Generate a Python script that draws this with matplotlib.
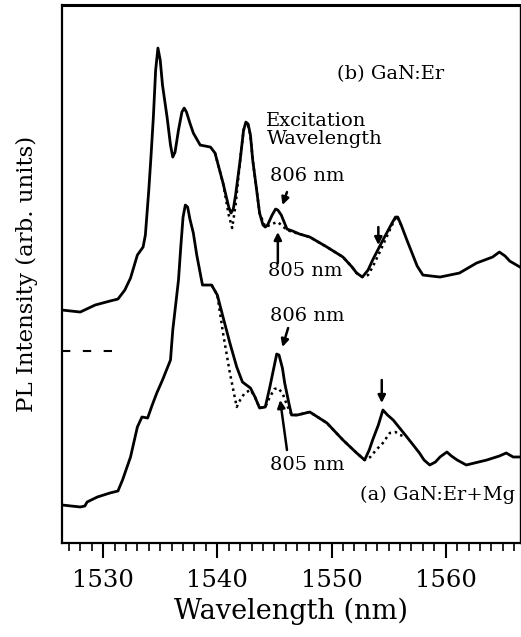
import matplotlib
matplotlib.use("Agg")
import matplotlib.pyplot as plt
from matplotlib.ticker import MultipleLocator

plt.rcParams['font.family'] = ['DejaVu Serif']

# (b) GaN:Er, 806 nm excitation (solid)
wl_b = [1526.4, 1528.0, 1529.3, 1530.6, 1531.3, 1531.9, 1532.4, 1533.0, 1533.5, 1533.7,
        1534.0, 1534.2, 1534.4, 1534.6, 1534.8, 1535.0, 1535.2, 1535.6, 1535.9, 1536.1,
        1536.3, 1536.6, 1536.9, 1537.1, 1537.3, 1537.6, 1537.9, 1538.5, 1539.4, 1539.8,
        1540.5, 1541.0, 1541.2, 1541.4, 1541.6, 1542.0, 1542.3, 1542.5, 1542.7, 1542.9,
        1543.1, 1543.5, 1543.7, 1544.0, 1544.2, 1544.4, 1544.8, 1545.1, 1545.3, 1545.6,
        1546.1, 1546.6, 1547.2, 1548.1, 1549.6, 1551.0, 1551.8, 1552.2, 1552.7, 1553.2,
        1553.6, 1554.5, 1555.3, 1555.6, 1555.8, 1556.1, 1556.6, 1557.5, 1558.0, 1559.5,
        1561.2, 1562.7, 1564.1, 1564.7, 1565.2, 1565.6, 1566.5]
pl_b = [23.5, 23.3, 24.0, 24.4, 24.6, 25.5, 26.7, 29.0, 29.8, 31.0,
        35.5, 39.0, 42.8, 47.5, 49.7, 48.5, 46.0, 42.8, 40.0, 38.8,
        39.3, 41.5, 43.3, 43.7, 43.3, 42.2, 41.2, 40.0, 39.8, 39.2,
        36.2, 33.8, 33.2, 33.6, 35.0, 38.5, 41.5, 42.3, 42.1, 41.0,
        38.5, 35.0, 33.2, 32.0, 31.8, 32.0, 33.0, 33.6, 33.5, 33.0,
        31.6, 31.4, 31.1, 30.8, 29.8, 28.8, 27.8, 27.2, 26.8, 27.5,
        28.5, 30.5, 32.2, 32.8, 32.8, 32.0, 30.5, 27.9, 27.0, 26.8,
        27.2, 28.2, 28.8, 29.3, 28.9, 28.4, 27.8]

# (b) GaN:Er, 805 nm excitation (dotted, where it differs)
wl_b805 = [1539.8, 1540.5, 1541.0, 1541.3, 1541.6, 1542.0, 1542.3, 1542.6, 1542.9, 1543.1,
           1543.5, 1543.7, 1544.2, 1544.6, 1545.0, 1545.3, 1545.7, 1546.1, 1546.6, 1548.1,
           1549.6, 1551.0, 1551.8, 1552.2, 1552.7, 1553.2, 1553.6, 1554.1, 1554.5, 1555.3,
           1555.7, 1556.1]
pl_b805 = [39.2, 36.2, 33.0, 31.7, 34.0, 38.5, 41.5, 42.3, 41.0, 38.5,
           35.0, 33.2, 31.8, 32.0, 32.2, 32.3, 31.9, 31.5, 31.3, 30.8,
           29.8, 28.8, 27.8, 27.2, 26.8, 27.0, 27.8, 29.0, 30.0, 32.0,
           32.9, 32.0]

# (a) GaN:Er+Mg, 806 nm excitation (solid)
wl_a = [1526.4, 1528.0, 1528.4, 1528.6, 1529.5, 1530.6, 1531.3, 1531.7, 1532.4, 1533.0,
        1533.4, 1533.9, 1534.3, 1534.7, 1535.2, 1535.9, 1536.1, 1536.3, 1536.6, 1536.8,
        1537.0, 1537.2, 1537.4, 1537.6, 1537.9, 1538.2, 1538.5, 1538.7, 1539.2, 1539.5,
        1540.0, 1540.5, 1541.1, 1541.7, 1542.2, 1542.9, 1543.3, 1543.7, 1544.2, 1544.6,
        1545.0, 1545.2, 1545.4, 1545.7, 1545.9, 1546.3, 1546.5, 1547.0, 1548.1, 1549.6,
        1551.0, 1552.2, 1552.9, 1553.3, 1553.6, 1554.1, 1554.5, 1554.9, 1555.4, 1556.6,
        1557.7, 1558.1, 1558.6, 1559.1, 1559.5, 1560.1, 1560.5, 1561.0, 1561.8, 1563.6,
        1564.7, 1565.3, 1565.9, 1566.5]
pl_a = [4.0, 3.8, 3.9, 4.3, 4.8, 5.2, 5.4, 6.5, 8.8, 11.8,
        12.8, 12.7, 14.0, 15.2, 16.5, 18.5, 21.5, 23.5, 26.5, 29.8,
        32.8, 34.0, 33.8, 32.6, 31.2, 29.0, 27.2, 26.0, 26.0, 26.0,
        25.0, 22.8, 20.2, 17.8, 16.3, 15.7, 14.8, 13.7, 13.8, 15.8,
        18.0, 19.1, 19.0, 17.7, 16.2, 14.0, 13.0, 13.0, 13.3, 12.2,
        10.5, 9.2, 8.5, 9.5, 10.5, 12.0, 13.5, 13.0, 12.5, 10.8,
        9.2, 8.5, 8.0, 8.3, 8.8, 9.3, 8.9, 8.5, 8.0, 8.5,
        8.9, 9.2, 8.8, 8.8]

# (a) GaN:Er+Mg, 805 nm excitation (dotted, where it differs)
wl_a805 = [1539.5, 1540.0, 1540.5, 1541.1, 1541.7, 1542.0, 1542.4, 1542.9, 1543.3, 1543.7,
           1544.2, 1544.6, 1545.0, 1545.3, 1545.7, 1546.1, 1546.5, 1547.0, 1548.1, 1549.6,
           1551.0, 1552.2, 1552.9, 1553.4, 1553.9, 1554.5, 1555.1, 1555.6, 1556.0, 1556.6]
pl_a805 = [26.0, 25.0, 21.2, 17.2, 13.8, 14.5, 15.2, 15.5, 14.8, 13.7,
           13.8, 14.8, 15.6, 15.7, 15.2, 14.0, 13.0, 13.0, 13.3, 12.2,
           10.5, 9.2, 8.5, 8.8, 9.5, 10.2, 11.2, 11.3, 11.0, 10.8]

x_ticks = [1530, 1540, 1550, 1560]
x_ticklabels = ['1530', '1540', '1550', '1560']

fig = plt.figure(figsize=(5.21, 6.37), dpi=100)
ax = fig.add_axes([0.119, 0.1476, 0.879, 0.8444])

ax.plot(wl_b805, pl_b805, color='k', lw=1.8, linestyle=(0, (1, 1.5)))
ax.plot(wl_a805, pl_a805, color='k', lw=1.8, linestyle=(0, (1, 1.5)))
ax.plot(wl_b, pl_b, color='k', lw=2.0)
ax.plot(wl_a, pl_a, color='k', lw=2.0)

# zero-level marker for the upper curve
ax.plot([1526.4, 1531.2], [19.4, 19.4], color='k', lw=1.5, linestyle=(0, (4, 6)))

ax.set_xlim(1526.4, 1566.5)
ax.set_ylim(0.2, 54.0)
ax.set_xticks(x_ticks)
ax.set_xticklabels(x_ticklabels)
ax.xaxis.set_minor_locator(MultipleLocator(1))
ax.set_yticks([])
ax.tick_params(axis='x', which='major', direction='out', length=11, width=1.5,
               labelsize=17.5, pad=8)
ax.tick_params(axis='x', which='minor', direction='out', length=5.5, width=1.2)

ax.spines['top'].set_linewidth(2.2)
ax.spines['left'].set_linewidth(1.6)
ax.spines['bottom'].set_linewidth(1.6)
ax.spines['right'].set_linewidth(1.0)

ax.set_xlabel('Wavelength (nm)', fontsize=19.5, labelpad=4)
ax.set_ylabel('PL Intensity (arb. units)', fontsize=16.5, labelpad=17)

txt = 14
ax.text(1550.5, 47.1, '(b) GaN:Er', fontsize=txt, ha='left', va='center')
ax.text(1544.3, 41.5, 'Excitation\nWavelength', fontsize=txt, ha='left', va='center',
        linespacing=1.05)
ax.text(1544.6, 36.95, '806 nm', fontsize=txt, ha='left', va='center')
ax.text(1544.4, 27.4, '805 nm', fontsize=txt, ha='left', va='center')
ax.text(1544.6, 22.9, '806 nm', fontsize=txt, ha='left', va='center')
ax.text(1544.6, 8.0, '805 nm', fontsize=txt, ha='left', va='center')
ax.text(1552.5, 5.0, '(a) GaN:Er+Mg', fontsize=txt, ha='left', va='center')

arrow = dict(arrowstyle='-|>', color='k', lw=1.8, mutation_scale=11, shrinkA=0, shrinkB=0)
ax.annotate('', xy=(1545.7, 34.0), xytext=(1546.1, 35.3), arrowprops=arrow)
ax.annotate('', xy=(1545.3, 31.3), xytext=(1545.3, 28.2), arrowprops=arrow)
ax.annotate('', xy=(1554.1, 30.0), xytext=(1554.1, 31.8), arrowprops=arrow)
ax.annotate('', xy=(1545.7, 19.8), xytext=(1546.2, 21.7), arrowprops=arrow)
ax.annotate('', xy=(1545.5, 14.5), xytext=(1546.1, 9.5), arrowprops=arrow)
ax.annotate('', xy=(1554.4, 14.2), xytext=(1554.4, 16.5), arrowprops=arrow)

fig.savefig('out.png', dpi=100)
